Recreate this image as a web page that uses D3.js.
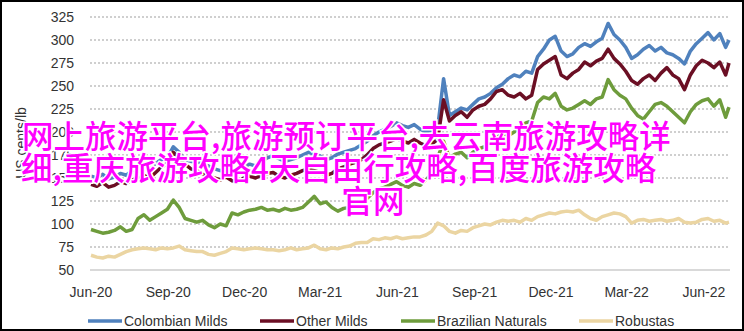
<!DOCTYPE html>
<html>
<head>
<meta charset="utf-8">
<script src="https://cdn.jsdelivr.net/npm/d3@7"></script>
<style>
  body { margin: 0; background: #fff; }
  svg { display: block; }
  .tick-label { font-family: "Liberation Sans", Arial, sans-serif; font-size: 14px; fill: #333; }
</style>
</head>
<body>
<div id="chart"></div>
<script>
// weekly observations from 1 Jun 2020, last point 1 Jul 2022
var startDate = new Date(2020, 5, 1),
    endDate = new Date(2022, 6, 1);

var colombianMilds = [152,150,154,149,151,155,153,158,160,163,160,166,170,172,184,178,170,168,
  168,165,163,160,158,160,156,158,162,165,163,168,172,174,171,168,170,172,175,178,176,
  174,170,172,176,178,180,182,186,190,196,200,203,206,210,207,205,208,203,200,202,205,
  258,218,222,226,224,230,236,238,242,248,252,258,262,260,266,264,282,290,300,304,288,
  282,285,292,296,293,298,302,318,306,300,292,280,284,290,294,288,292,286,284,280,274,
  288,296,302,308,300,307,292,300];

var otherMilds = [143,141,145,140,142,146,144,148,150,153,150,156,162,166,178,172,165,160,
  158,154,152,150,148,151,147,146,150,152,150,153,155,156,152,150,153,155,158,160,158,
  156,153,155,160,162,165,167,170,175,182,186,188,190,193,190,188,192,188,185,187,192,
  235,212,218,222,216,224,228,230,236,244,246,240,238,242,236,240,268,274,278,282,262,
  258,264,268,276,272,277,280,290,280,274,266,256,252,258,262,256,264,270,262,258,246,
  262,272,278,275,270,276,262,275];

var brazilianNaturals = [94,92,90,91,93,97,92,94,106,110,104,108,112,116,126,118,106,104,
  102,104,99,96,100,98,112,110,113,115,116,118,115,116,114,117,115,116,118,124,130,
  122,124,118,114,117,118,120,124,128,134,138,140,143,146,142,140,144,142,148,155,172,
  190,172,176,178,172,178,182,184,188,194,198,196,200,205,210,212,232,238,236,242,228,
  224,226,230,234,230,236,238,257,246,240,236,226,218,214,222,230,232,228,222,216,210,
  222,230,234,236,228,235,216,227];

var robustas = [66,64,63,65,64,67,70,72,73,74,73,72,74,73,74,76,72,71,
  70,70,67,66,68,70,74,73,72,73,74,73,72,72,71,72,74,72,73,74,77,
  73,72,74,73,75,76,79,80,80,84,83,85,84,86,84,85,86,86,88,92,101,
  98,92,90,93,92,96,98,100,99,102,104,103,104,102,106,104,108,110,112,111,113,
  114,113,115,110,106,104,108,110,112,111,108,101,104,105,103,104,105,103,104,106,102,
  101,102,105,106,103,104,101,102];

var seriesNames = ["Colombian Milds", "Other Milds", "Brazilian Naturals", "Robustas"];
var seriesColors = ["#4f81bd", "#6b0f24", "#6e9c3c", "#ebd5a2"];
var yTicks = [50, 75, 100, 125, 150, 175, 200, 225, 250, 275, 300, 325];
var xTickDates = [new Date(2020,5,1), new Date(2020,8,1), new Date(2020,11,1), new Date(2021,2,1),
  new Date(2021,5,1), new Date(2021,8,1), new Date(2021,11,1), new Date(2022,2,1), new Date(2022,5,1)];
var overlayLines = ["网上旅游平台,旅游预订平台,去云南旅游攻略详", "细,重庆旅游攻略4天自由行攻略,百度旅游攻略", "官网"];

var dates = colombianMilds.map(function(d, i){
  return i < colombianMilds.length - 1 ? d3.timeDay.offset(startDate, 7*i) : endDate;
});
var allSeries = [colombianMilds, otherMilds, brazilianNaturals, robustas];

var width = 744, height = 331;
var svg = d3.select("#chart").append("svg")
  .attr("width", width).attr("height", height);

svg.append("rect").attr("width", width).attr("height", height).attr("fill", "#fff");

var x = d3.scaleTime().domain([startDate, endDate]).range([91, 729]);
var y = d3.scaleLinear().domain([50, 325]).range([270, 17]);

// grid
svg.append("g").selectAll("line")
  .data(yTicks.filter(function(t){ return t > 50; }))
  .join("line")
    .attr("x1", 90).attr("x2", 730)
    .attr("y1", function(d){ return y(d); }).attr("y2", function(d){ return y(d); })
    .attr("stroke", "#cfcfcf").attr("stroke-width", 2)
    .attr("stroke-dasharray", "2,2");

svg.append("line")
  .attr("x1", 90).attr("x2", 730).attr("y1", y(50)).attr("y2", y(50))
  .attr("stroke", "#cccccc").attr("stroke-width", 1.5);

// y labels
svg.append("g").selectAll("text")
  .data(yTicks)
  .join("text")
    .attr("class", "tick-label")
    .attr("x", 74).attr("y", function(d){ return y(d) + 5; })
    .attr("text-anchor", "end")
    .text(function(d){ return d; });

// x labels
var fmt = d3.timeFormat("%b-%y");
svg.append("g").selectAll("text")
  .data(xTickDates)
  .join("text")
    .attr("class", "tick-label")
    .attr("x", function(d){ return x(d); }).attr("y", 297)
    .attr("text-anchor", "middle")
    .text(function(d){ return fmt(d); });

svg.append("text")
  .attr("class", "tick-label")
  .attr("transform", "translate(26,143) rotate(-90)")
  .attr("text-anchor", "middle")
  .text("US cents/lb");

// lines
var line = d3.line()
  .x(function(d, i){ return x(dates[i]); })
  .y(function(d){ return y(d); });

svg.append("g").selectAll("path")
  .data(allSeries)
  .join("path")
    .attr("d", line)
    .attr("fill", "none")
    .attr("stroke", function(d, i){ return seriesColors[i]; })
    .attr("stroke-width", 3.5)
    .attr("stroke-linejoin", "round");

// legend
var legendX = [88, 260, 401, 579];
var lg = svg.append("g").selectAll("g")
  .data(seriesNames)
  .join("g")
    .attr("transform", function(d, i){ return "translate(" + legendX[i] + ",321)"; });
lg.append("line")
  .attr("x1", 0).attr("x2", 34)
  .attr("stroke", function(d, i){ return seriesColors[i]; })
  .attr("stroke-width", 3.5);
lg.append("text")
  .attr("class", "tick-label")
  .attr("x", 36).attr("y", 5)
  .text(function(d){ return d; });

// overlay text
var ov = [{x: 22, y: 148, a: "start"}, {x: 21, y: 180, a: "start"}, {x: 373, y: 213, a: "middle"}];
svg.append("g").selectAll("text")
  .data(overlayLines)
  .join("text")
    .attr("x", function(d, i){ return ov[i].x; })
    .attr("y", function(d, i){ return ov[i].y; })
    .attr("text-anchor", function(d, i){ return ov[i].a; })
    .attr("font-family", "'Noto Sans CJK SC', sans-serif")
    .attr("font-size", 31.5)
    .attr("font-weight", 500)
    .attr("fill", "#ff00ff")
    .attr("stroke", "#fff")
    .attr("stroke-width", 3)
    .attr("paint-order", "stroke")
    .text(function(d){ return d; });

// frame
svg.append("rect")
  .attr("x", 1).attr("y", 1).attr("width", width - 2).attr("height", height - 2)
  .attr("fill", "none").attr("stroke", "#000").attr("stroke-width", 2);
</script>
</body>
</html>
